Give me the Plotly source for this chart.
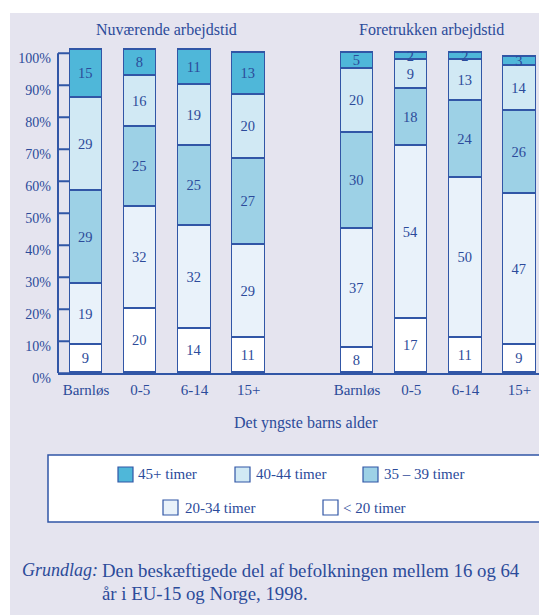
import plotly.graph_objects as go

# data: share of employed (%) by weekly hours, bottom segment first
categories = ["Barnløs", "0-5", "6-14", "15+"]
group_titles = ["Nuværende arbejdstid", "Foretrukken arbejdstid"]
series_names = ["< 20 timer", "20-34 timer", "35 – 39 timer", "40-44 timer", "45+ timer"]

nuv_under20 = [9, 20, 14, 11]
nuv_20_34 = [19, 32, 32, 29]
nuv_35_39 = [29, 25, 25, 27]
nuv_40_44 = [29, 16, 19, 20]
nuv_45plus = [15, 8, 11, 13]

for_under20 = [8, 17, 11, 9]
for_20_34 = [37, 54, 50, 47]
for_35_39 = [30, 18, 24, 26]
for_40_44 = [20, 9, 13, 14]
for_45plus = [5, 2, 2, 3]

yticks = [0, 10, 20, 30, 40, 50, 60, 70, 80, 90, 100]

W, H = 539, 615
def px(x):
    return x / W
def py(y):
    return 1 - y / H

colors = ["#ffffff", "#e9f2fa", "#9dd1e6", "#d1e9f4", "#4fb7d9"]
edge = "#3156a6"
txt = "#2c4b9a"
font = "Liberation Serif"

pos1 = [0, 1, 2, 3]
pos2 = [5, 6, 7, 8]
nuv = [nuv_under20, nuv_20_34, nuv_35_39, nuv_40_44, nuv_45plus]
fore = [for_under20, for_20_34, for_35_39, for_40_44, for_45plus]

fig = go.Figure()
for i, name in enumerate(series_names):
    vals = nuv[i] + fore[i]
    fig.add_trace(go.Bar(
        x=pos1 + pos2, y=vals, name=name, width=0.6,
        marker=dict(color=colors[i], line=dict(color=edge, width=1.5)),
        text=[str(v) for v in vals], textposition="inside",
        insidetextanchor="middle", textangle=0,
        textfont=dict(family=font, size=14.5, color=txt),
        showlegend=False, hoverinfo="skip",
    ))

shapes = [
    dict(type="rect", xref="paper", yref="paper", x0=px(10), x1=1, y0=0, y1=py(13),
         fillcolor="#e5e4ef", line=dict(width=0), layer="below"),
    dict(type="line", xref="paper", yref="y", x0=px(58), x1=px(58), y0=0, y1=100,
         line=dict(color=edge, width=2)),
    # legend box
    dict(type="rect", xref="paper", yref="paper", x0=px(48), x1=px(545), y0=py(522), y1=py(455),
         fillcolor="white", line=dict(color=edge, width=1.5)),
]
for t in yticks:
    shapes.append(dict(type="line", xref="paper", yref="y", x0=px(58), x1=px(70), y0=t, y1=t,
                       line=dict(color=edge, width=2)))

def note(text, x, y, size, xanchor="center"):
    return dict(text=text, x=px(x), y=py(y), xref="paper", yref="paper", xanchor=xanchor,
                yanchor="middle", showarrow=False, font=dict(family=font, size=size, color=txt))

annotations = []
for title, xc in zip(group_titles, [166, 431]):
    annotations.append(note(title, xc, 30, 16))
annotations.append(note("Det yngste barns alder", 306, 423, 16))

# legend swatches, top row first
legend_order = [4, 3, 2, 1, 0]
legend_pos = [(118, 467, 136), (235, 467, 254), (363, 467, 382), (163, 500, 183), (323, 500, 341)]
for k, (x0, y0, tx) in zip(legend_order, legend_pos):
    shapes.append(dict(type="rect", xref="paper", yref="paper", x0=px(x0), x1=px(x0 + 15),
                       y0=py(y0 + 15), y1=py(y0), fillcolor=colors[k], line=dict(color=edge, width=1.2)))
    annotations.append(note(series_names[k], tx, y0 + 7.5, 15, "left"))

annotations.append(note("<i>Grundlag:</i>", 20, 570, 18, "left"))
annotations.append(note("Den beskæftigede del af befolkningen mellem 16 og 64", 100, 570, 18.8, "left"))
annotations.append(note("år i EU-15 og Norge, 1998.", 100, 593, 18.8, "left"))

fig.update_layout(
    width=W, height=H, margin=dict(l=0, r=0, t=0, b=0, autoexpand=False),
    paper_bgcolor="white", plot_bgcolor="rgba(0,0,0,0)",
    barmode="stack", bargap=0,
    uniformtext=dict(minsize=14.5, mode="show"),
    shapes=shapes, annotations=annotations,
    xaxis=dict(domain=[px(58), 1], range=[-0.517, 8.358], showgrid=False, zeroline=False,
               showline=True, linecolor=edge, linewidth=2, automargin=False,
               tickvals=pos1 + pos2, ticktext=categories + categories, ticks="",
               ticklabelstandoff=2,
               tickfont=dict(family=font, size=15, color=txt)),
    yaxis=dict(domain=[py(373.3), py(46.9)], range=[0, 102], showgrid=False, zeroline=False,
               showline=False, tickvals=yticks, ticktext=[f"{t}%" for t in yticks], ticks="",
               ticklabelstandoff=6, ticklabelshift=5, automargin=False,
               tickfont=dict(family=font, size=14, color=txt)),
)

fig.write_html("out.html", config={"displayModeBar": False},
               post_script="document.body.style.margin='0';")
